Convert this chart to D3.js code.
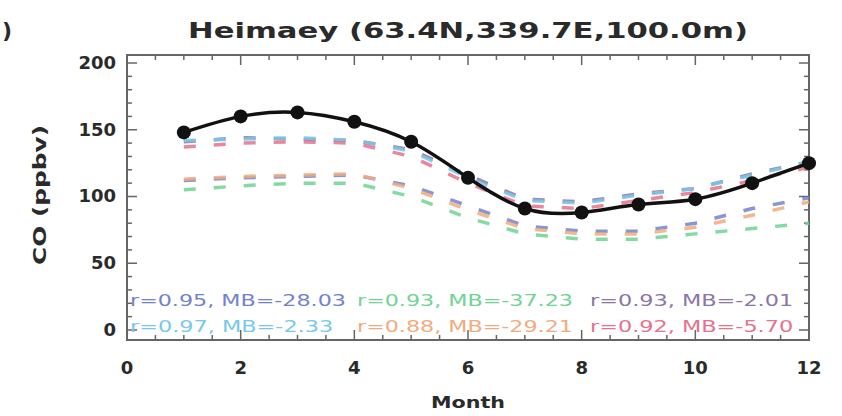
<!DOCTYPE html>
<html>
<head>
<meta charset="utf-8">
<script src="https://cdn.jsdelivr.net/npm/d3@7"></script>
<style>
  html, body { margin: 0; padding: 0; background: #fff; }
  svg { display: block; }
  text { font-family: "DejaVu Sans", "Liberation Sans", sans-serif; }
</style>
</head>
<body>
<svg id="chart" width="842" height="416"></svg>
<script>
// Monthly CO at Heimaey: observations and six model runs
const months = [1, 2, 3, 4, 5, 6, 7, 8, 9, 10, 11, 12];
const observed = [148, 160, 163, 156, 141, 114, 91, 88, 94, 98, 110, 125];

const modelBlue   = [112, 114, 115, 116, 108, 93, 78, 74, 74, 80, 91, 99];
const modelGreen  = [105, 108, 110, 110, 100, 84, 72, 68, 68, 72, 76, 80];
const modelPurple = [141, 144, 143, 142, 135, 116, 98, 96, 102, 106, 117, 126];
const modelCyan   = [142, 143, 144, 142, 134, 114, 97, 95, 101, 106, 116, 126];
const modelOrange = [113, 115, 116, 117, 106, 90, 76, 72, 72, 77, 86, 96];
const modelRed    = [137, 140, 141, 140, 130, 110, 93, 91, 97, 103, 112, 122];

const statLabels = [
  "r=0.95, MB=-28.03", "r=0.93, MB=-37.23", "r=0.93, MB=-2.01",
  "r=0.97, MB=-2.33",  "r=0.88, MB=-29.21", "r=0.92, MB=-5.70"
];
const seriesColors = ["#7482cc", "#6fd494", "#8c76a4", "#78c8ea", "#f2ab7e", "#e6728c"];
const xTicks = [0, 2, 4, 6, 8, 10, 12];
const yTicks = [0, 50, 100, 150, 200];

const title = "Heimaey (63.4N,339.7E,100.0m)";

const models = [modelBlue, modelGreen, modelPurple, modelCyan, modelOrange, modelRed];

const svg = d3.select("#chart");
const x = d3.scaleLinear().domain([0, 12]).range([127, 809]);
const y = d3.scaleLinear().domain([-7.5, 206]).range([340, 55]);

const axisColor = "#666";
const inkColor = "#2a2a2a";

// Panel tag remnant and title
svg.append("text").attr("x", 2).attr("y", 38)
  .attr("font-size", 22).attr("font-weight", "bold").attr("fill", inkColor).text(")");
svg.append("text").attr("x", 468).attr("y", 38).attr("text-anchor", "middle")
  .attr("font-size", 21).attr("font-weight", "bold").attr("fill", inkColor)
  .attr("textLength", 560).attr("lengthAdjust", "spacingAndGlyphs")
  .text(title);

// Frame
const [x0, x1] = x.range();
const [yb, yt] = y.range();
svg.append("rect").attr("x", x0).attr("y", yt).attr("width", x1 - x0).attr("height", yb - yt)
  .attr("fill", "none").attr("stroke", axisColor).attr("stroke-width", 2);

// Ticks on all four sides, pointing inward
const g = svg.append("g").attr("stroke", axisColor).attr("stroke-width", 1.5);
const xMinor = d3.range(0, 12.01, 0.5);
xMinor.forEach(v => {
  const major = xTicks.includes(v);
  const len = major ? 10 : 5;
  g.append("line").attr("x1", x(v)).attr("x2", x(v)).attr("y1", yb).attr("y2", yb - len);
  g.append("line").attr("x1", x(v)).attr("x2", x(v)).attr("y1", yt).attr("y2", yt + len);
});
const yMinor = d3.range(0, 201, 10);
yMinor.forEach(v => {
  const major = yTicks.includes(v);
  const len = major ? 10 : 5;
  g.append("line").attr("y1", y(v)).attr("y2", y(v)).attr("x1", x0).attr("x2", x0 + len);
  g.append("line").attr("y1", y(v)).attr("y2", y(v)).attr("x1", x1).attr("x2", x1 - len);
});

// Tick labels
svg.append("g").selectAll("text").data(xTicks).join("text")
  .attr("x", d => x(d)).attr("y", 374).attr("text-anchor", "middle")
  .attr("font-size", 18).attr("font-weight", "bold").attr("fill", inkColor)
  .text(d => d);
svg.append("g").selectAll("text").data(yTicks).join("text")
  .attr("x", 116).attr("y", d => y(d) + 6).attr("text-anchor", "end")
  .attr("font-size", 18).attr("font-weight", "bold").attr("fill", inkColor)
  .text(d => d);

// Axis titles
svg.append("text").attr("x", 468).attr("y", 408).attr("text-anchor", "middle")
  .attr("font-size", 15).attr("font-weight", "bold").attr("fill", inkColor)
  .attr("textLength", 74).attr("lengthAdjust", "spacingAndGlyphs").text("Month");
svg.append("text").attr("transform", "translate(46,195) rotate(-90)").attr("text-anchor", "middle")
  .attr("font-size", 17).attr("font-weight", "bold").attr("fill", inkColor)
  .attr("textLength", 140).attr("lengthAdjust", "spacingAndGlyphs").text("CO (ppbv)");

// Model runs: dashed lines
const lineGen = d3.line().x((d, i) => x(months[i])).y(d => y(d));
svg.append("g").selectAll("path").data(models).join("path")
  .attr("d", d => lineGen(d))
  .attr("fill", "none")
  .attr("stroke", (d, i) => seriesColors[i])
  .attr("stroke-width", 3.5)
  .attr("stroke-dasharray", "12,18")
  .attr("opacity", 0.85);

// Observations: smooth black line with filled circles
const obsLine = d3.line().x((d, i) => x(months[i])).y(d => y(d)).curve(d3.curveNatural);
svg.append("path").attr("d", obsLine(observed))
  .attr("fill", "none").attr("stroke", "#111").attr("stroke-width", 3.5);
svg.append("g").selectAll("circle").data(observed).join("circle")
  .attr("cx", (d, i) => x(months[i])).attr("cy", d => y(d)).attr("r", 7)
  .attr("fill", "#111");

// Statistics labels, two rows of three
const colX = [130, 357, 590];
const rowY = [306, 332];
svg.append("g").selectAll("text").data(statLabels).join("text")
  .attr("x", (d, i) => colX[i % 3])
  .attr("y", (d, i) => rowY[Math.floor(i / 3)])
  .attr("font-size", 16)
  .attr("fill", (d, i) => seriesColors[i])
  .attr("textLength", d => d.length * 12.7).attr("lengthAdjust", "spacingAndGlyphs")
  .text(d => d);
</script>
</body>
</html>
